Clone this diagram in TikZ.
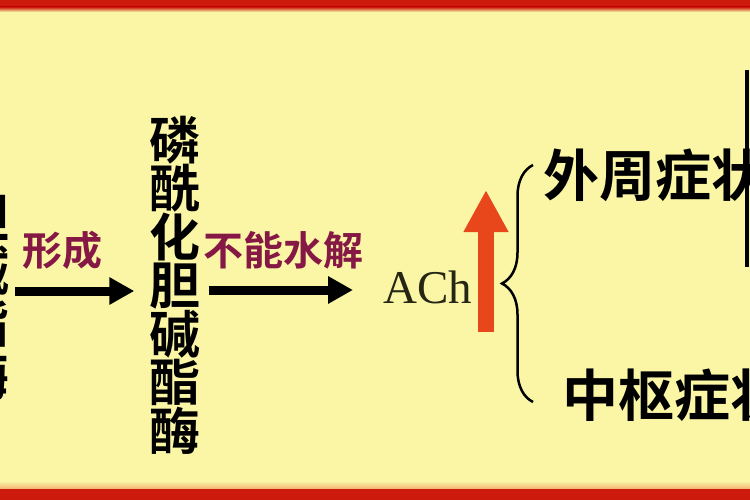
\documentclass[tikz,border=0pt]{standalone}
\usepackage{fontspec}
\setmainfont{Liberation Serif}
\newfontfamily\cjk{Noto Sans CJK SC}[BoldFont={Noto Sans CJK SC Bold}]
\usetikzlibrary{arrows.meta,decorations.pathreplacing}
\definecolor{bgyellow}{HTML}{FAF6A6}
\definecolor{framered}{HTML}{CC1A0C}
\definecolor{fadeorange}{HTML}{F4B070}
\definecolor{lblred}{HTML}{861845}
\definecolor{upred}{HTML}{E8471C}
\definecolor{achgrey}{HTML}{262614}

\begin{document}
\begin{tikzpicture}[x=1pt,y=-1pt,
  column/.style={inner sep=0pt,align=center,font=\cjk\bfseries\fontsize{#1}{#1}\selectfont},
  word/.style={inner sep=0pt,font=\cjk\bfseries\fontsize{56pt}{56pt}\selectfont},
  lbl/.style={inner sep=0pt,text=lblred,font=\cjk\bfseries\fontsize{40pt}{40pt}\selectfont},
  flow/.style={line width=9pt,-{Triangle[length=25pt,width=26pt]}}]
  \path[use as bounding box] (0,0) rectangle (750,500);
  \clip (0,0) rectangle (750,500);
  % background and frame
  \fill[bgyellow] (0,0) rectangle (750,500);
  \fill[framered] (0,0) rectangle (750,7);
  \shade[top color=framered,bottom color=bgyellow] (0,7) rectangle (750,12);
  \shade[top color=bgyellow,bottom color=fadeorange] (0,481) rectangle (750,489);
  \fill[framered] (0,489) rectangle (750,500);

  \node[column=53pt,anchor=east] (enz) at (10,297) {胆\\碱\\酯\\酶};
  \node[inner sep=0pt,align=center,font=\cjk\bfseries\fontsize{51pt}{48.5pt}\selectfont] (phos) at (175,285) {磷\\酰\\化\\胆\\碱\\酯\\酶};
  \node[inner sep=0pt,anchor=base west,text=achgrey,font=\fontsize{47pt}{47pt}\selectfont] (ach) at (383,303) {ACh};
  \node[word,anchor=west] (peri) at (543,175) {外周症状};
  \node[word,anchor=west] (cent) at (562,395) {中枢症状};

  \node[lbl] (form) at (63,250) {形成};
  \node[lbl] (nohyd) at (283,250) {不能水解};

  \draw[flow,shorten <=5pt,shorten >=15pt] (enz.east |- 0,291) -- (phos.west |- 0,291);
  \draw[flow,shorten <=8pt,shorten >=30pt] (phos.east |- 0,290) -- (ach.west |- 0,290);

  % ACh goes up
  \coordinate (upbot) at (486,332);
  \coordinate (uptop) at (486,190);
  \draw[upred,line width=16pt,-{Triangle[length=42pt,width=42pt]}] (upbot) -- (uptop);

  % brace to both groups of symptoms
  \coordinate (brbot) at (533,402);
  \coordinate (brtop) at (533,165);
  \draw[line width=2.5pt,decorate,decoration={brace,amplitude=31pt}] (brbot) -- (brtop);

  % edge of a bracket beyond the frame
  \coordinate (rtop) at (747,70);
  \coordinate (rbot) at (747,267);
  \draw[line width=4pt] (rtop) -- (rbot);
\end{tikzpicture}
\end{document}
